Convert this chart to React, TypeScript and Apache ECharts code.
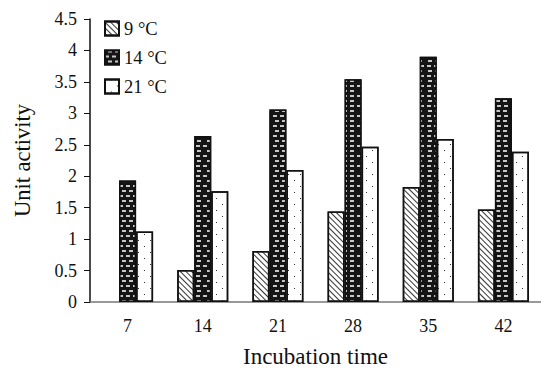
import React, { useEffect, useRef } from "react";
import * as echarts from "echarts";

const categories = ["7", "14", "21", "28", "35", "42"];
const seriesNames = ["9 °C", "14 °C", "21 °C"];
const values9 = [null, 0.51, 0.81, 1.44, 1.83, 1.47];
const values14 = [1.93, 2.64, 3.06, 3.54, 3.9, 3.24];
const values21 = [1.12, 1.76, 2.1, 2.47, 2.59, 2.39];

const FONT = "Liberation Serif";

export default function App() {
  const ref = useRef<HTMLDivElement>(null);
  useEffect(() => {
    if (!ref.current) return;
    const chart = echarts.init(ref.current, null, { renderer: "svg" });
    const border = { borderColor: "#111", borderWidth: 1.5 };
    chart.setOption({
      animation: false,
      aria: { enabled: true, decal: { show: true } },
      grid: { left: 90, top: 19, width: 453, height: 287 },
      legend: {
        orient: "vertical",
        left: 104,
        top: 19,
        padding: 0,
        itemWidth: 14,
        itemHeight: 14,
        itemGap: 10,
        icon: "rect",
        textStyle: { fontFamily: FONT, fontSize: 18.5, color: "#111" },
        data: seriesNames,
      },
      xAxis: {
        type: "category",
        data: categories,
        name: "Incubation time",
        nameLocation: "middle",
        nameGap: 43,
        nameTextStyle: { fontFamily: FONT, fontSize: 23, color: "#111" },
        axisLine: { lineStyle: { color: "#777", width: 1.5 } },
        axisTick: { length: 6, lineStyle: { color: "#333" } },
        axisLabel: { fontFamily: FONT, fontSize: 18, color: "#111", margin: 15 },
      },
      yAxis: {
        type: "value",
        min: 0,
        max: 4.5,
        interval: 0.5,
        name: "Unit activity",
        nameLocation: "middle",
        nameGap: 56,
        nameTextStyle: { fontFamily: FONT, fontSize: 22.5, color: "#111" },
        splitLine: { show: false },
        axisLine: { show: true, lineStyle: { color: "#111", width: 1.5 } },
        axisTick: { show: true, length: 6, lineStyle: { color: "#111" } },
        axisLabel: { fontFamily: FONT, fontSize: 18, color: "#111", margin: 13 },
      },
      series: [
        {
          name: seriesNames[0],
          type: "bar",
          data: values9,
          barWidth: 17,
          barGap: "0%",
          itemStyle: {
            color: "#fff",
            ...border,
            decal: {
              symbol: "rect",
              color: "#333",
              dashArrayX: [1, 0],
              dashArrayY: [0.9, 2.4],
              rotation: Math.PI / 4,
            },
          },
        },
        {
          name: seriesNames[1],
          type: "bar",
          data: values14,
          barWidth: 17,
          itemStyle: {
            color: "#151515",
            ...border,
            decal: {
              symbol: "rect",
              symbolSize: 1,
              color: "#c8c8c8",
              dashArrayX: [
                [3.5, 2.5],
                [0, 3, 3.5, 2.5, 3.5, 2.5],
              ],
              dashArrayY: [1.2, 2.1],
              rotation: 0,
            },
          },
        },
        {
          name: seriesNames[2],
          type: "bar",
          data: values21,
          barWidth: 17,
          itemStyle: {
            color: "#fff",
            ...border,
            decal: {
              symbol: "rect",
              symbolSize: 1,
              color: "#333",
              dashArrayX: [
                [1, 11],
                [0, 6, 1, 5],
              ],
              dashArrayY: [1, 5],
              rotation: 0,
            },
          },
        },
      ],
    });
    return () => chart.dispose();
  }, []);
  return <div ref={ref} style={{ width: 541, height: 373, position: "absolute", left: 0, top: 0, background: "#fff" }} />;
}
